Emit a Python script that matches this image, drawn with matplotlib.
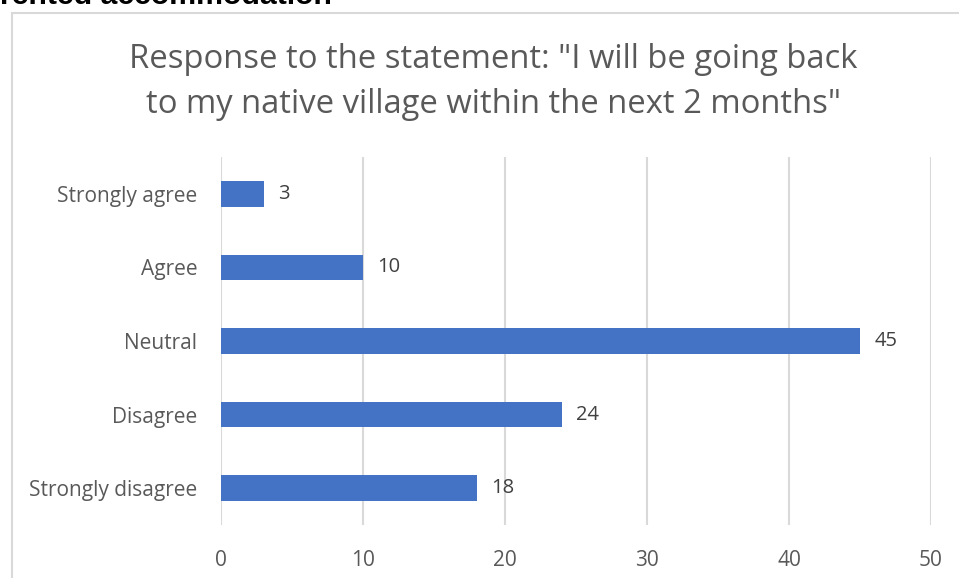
import matplotlib.pyplot as plt
from matplotlib.patches import Rectangle

categories = ['Strongly agree', 'Agree', 'Neutral', 'Disagree', 'Strongly disagree']
counts = [3, 10, 45, 24, 18]
xticks = [0, 10, 20, 30, 40, 50]

grey = '#595959'
grid = '#d9d9d9'
blue = '#4472c4'

plt.rcParams['font.family'] = ['Open Sans', 'DejaVu Sans']

fig = plt.figure(figsize=(9.59, 5.78), dpi=100)

# chart frame, clipped at the right and bottom
fig.patches.append(Rectangle((12 / 959, -0.05), 1.0, 1 - 13 / 578 + 0.05,
                             transform=fig.transFigure, fill=False,
                             edgecolor=grid, linewidth=1.5))

# heading of the page section, cut off at the top
fig.text(0.0, 1 - 4 / 578, 'rented accommodation', family='Liberation Sans',
         fontweight='bold', fontsize=21.8, color='black', ha='left', va='baseline')

ax = fig.add_axes([221 / 959, 1 - 525 / 578, 710 / 959, 368 / 578])
y = list(range(len(categories)))
ax.barh(y, counts, height=0.35, color=blue, zorder=3)
for yi, v in zip(y, counts):
    ax.text(v + 1.0, yi, str(v), va='center', ha='left', fontsize=14.5, color='#404040')

ax.set_xlim(0, 50)
ax.set_ylim(len(categories) - 0.5, -0.5)
ax.set_yticks(y)
ax.set_yticklabels(categories, fontsize=15, color=grey)
ax.set_xticks(xticks)
ax.set_xticklabels([str(t) for t in xticks], fontsize=15, color=grey)
ax.tick_params(length=0)
ax.tick_params(axis='y', pad=17)
ax.tick_params(axis='x', pad=18)
ax.grid(axis='x', color=grid, linewidth=1.5, zorder=0)
for s in ax.spines.values():
    s.set_visible(False)

fig.text(493 / 959, 1 - 82 / 578,
         'Response to the statement: "I will be going back\nto my native village within the next 2 months"',
         ha='center', va='center', fontsize=23.6, color=grey, linespacing=1.5)

fig.savefig('out.png', dpi=100)
